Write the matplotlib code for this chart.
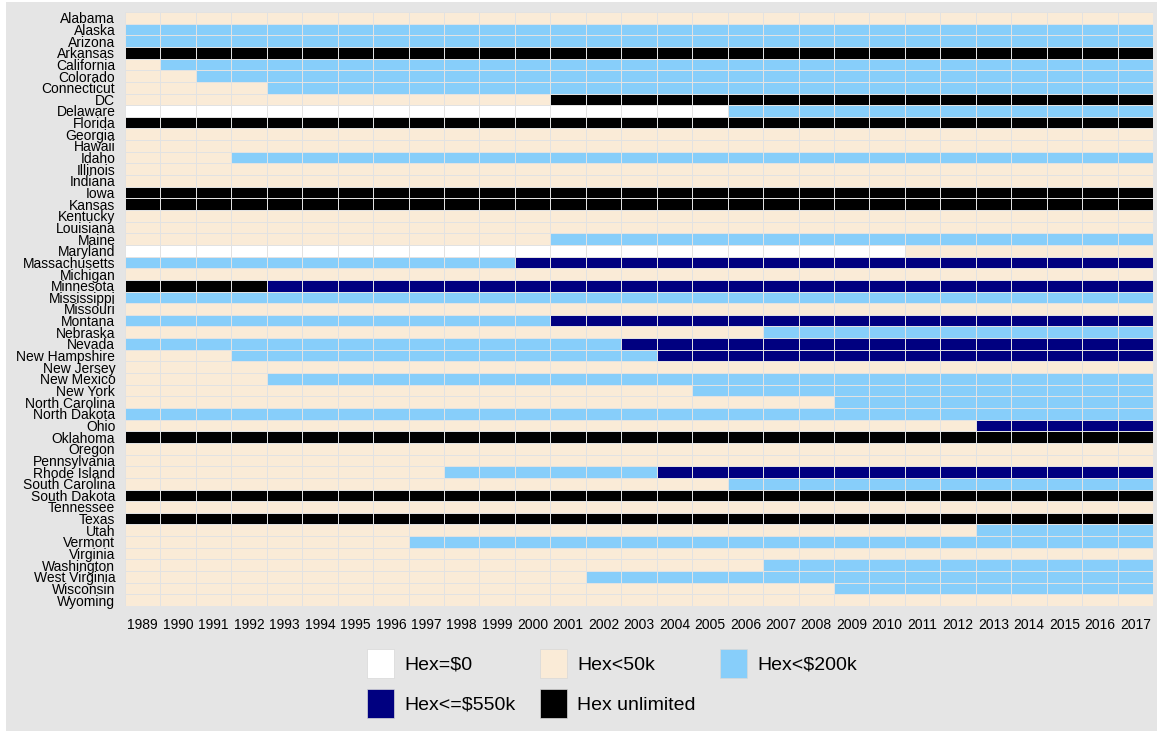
import matplotlib

matplotlib.use("Agg")

import matplotlib.pyplot as plt  # noqa: E402
import numpy as np  # noqa: E402
from matplotlib.colors import BoundaryNorm, ListedColormap  # noqa: E402
from matplotlib.patches import Patch, Rectangle  # noqa: E402

plt.rcParams["font.family"] = ["Liberation Sans", "DejaVu Sans"]

years = list(range(1989, 2018))

categories = ["Hex=$0", "Hex<50k", "Hex<$200k", "Hex<=$550k", "Hex unlimited"]
cat_colors = ["#FFFFFF", "#FAEBD7", "#87CEFA", "#000080", "#000000"]

states = [
    "Alabama", "Alaska", "Arizona", "Arkansas", "California", "Colorado",
    "Connecticut", "DC", "Delaware", "Florida", "Georgia", "Hawaii", "Idaho",
    "Illinois", "Indiana", "Iowa", "Kansas", "Kentucky", "Louisiana", "Maine",
    "Maryland", "Massachusetts", "Michigan", "Minnesota", "Mississippi",
    "Missouri", "Montana", "Nebraska", "Nevada", "New Hampshire", "New Jersey",
    "New Mexico", "New York", "North Carolina", "North Dakota", "Ohio",
    "Oklahoma", "Oregon", "Pennsylvania", "Rhode Island", "South Carolina",
    "South Dakota", "Tennessee", "Texas", "Utah", "Vermont", "Virginia",
    "Washington", "West Virginia", "Wisconsin", "Wyoming",
]

# (first year, category index) for each change of exemption level
changes = [
    [(1989, 1)],                          # Alabama
    [(1989, 2)],                          # Alaska
    [(1989, 2)],                          # Arizona
    [(1989, 4)],                          # Arkansas
    [(1989, 1), (1990, 2)],               # California
    [(1989, 1), (1991, 2)],               # Colorado
    [(1989, 1), (1993, 2)],               # Connecticut
    [(1989, 1), (2001, 4)],               # DC
    [(1989, 0), (2006, 2)],               # Delaware
    [(1989, 4)],                          # Florida
    [(1989, 1)],                          # Georgia
    [(1989, 1)],                          # Hawaii
    [(1989, 1), (1992, 2)],               # Idaho
    [(1989, 1)],                          # Illinois
    [(1989, 1)],                          # Indiana
    [(1989, 4)],                          # Iowa
    [(1989, 4)],                          # Kansas
    [(1989, 1)],                          # Kentucky
    [(1989, 1)],                          # Louisiana
    [(1989, 1), (2001, 2)],               # Maine
    [(1989, 0), (2011, 1)],               # Maryland
    [(1989, 2), (2000, 3)],               # Massachusetts
    [(1989, 1)],                          # Michigan
    [(1989, 4), (1993, 3)],               # Minnesota
    [(1989, 2)],                          # Mississippi
    [(1989, 1)],                          # Missouri
    [(1989, 2), (2001, 3)],               # Montana
    [(1989, 1), (2007, 2)],               # Nebraska
    [(1989, 2), (2003, 3)],               # Nevada
    [(1989, 1), (1992, 2), (2004, 3)],    # New Hampshire
    [(1989, 1)],                          # New Jersey
    [(1989, 1), (1993, 2)],               # New Mexico
    [(1989, 1), (2005, 2)],               # New York
    [(1989, 1), (2009, 2)],               # North Carolina
    [(1989, 2)],                          # North Dakota
    [(1989, 1), (2013, 3)],               # Ohio
    [(1989, 4)],                          # Oklahoma
    [(1989, 1)],                          # Oregon
    [(1989, 1)],                          # Pennsylvania
    [(1989, 1), (1998, 2), (2004, 3)],    # Rhode Island
    [(1989, 1), (2006, 2)],               # South Carolina
    [(1989, 4)],                          # South Dakota
    [(1989, 1)],                          # Tennessee
    [(1989, 4)],                          # Texas
    [(1989, 1), (2013, 2)],               # Utah
    [(1989, 1), (1997, 2)],               # Vermont
    [(1989, 1)],                          # Virginia
    [(1989, 1), (2007, 2)],               # Washington
    [(1989, 1), (2002, 2)],               # West Virginia
    [(1989, 1), (2009, 2)],               # Wisconsin
    [(1989, 1)],                          # Wyoming
]

grid = np.zeros((len(states), len(years)))
for i, steps in enumerate(changes):
    for start, cat in steps:
        for j, yr in enumerate(years):
            if yr >= start:
                grid[i, j] = cat

bg = "#E5E5E5"
fig = plt.figure(figsize=(11.6, 7.34), dpi=100)
fig.patch.set_facecolor("white")
fig.patches.append(
    Rectangle((6 / 1160, 3 / 734), 1151 / 1160, 729 / 734,
              transform=fig.transFigure, facecolor=bg, edgecolor="none",
              zorder=-10)
)

ax = fig.add_axes([125 / 1160, 1 - 606 / 734, 1028 / 1160, 594 / 734])
ax.set_facecolor(bg)

cmap = ListedColormap(cat_colors)
norm = BoundaryNorm(np.arange(-0.5, len(categories) + 0.5), cmap.N)
x_edges = np.arange(len(years) + 1) - 0.5
y_edges = np.arange(len(states) + 1) - 0.5
ax.pcolormesh(x_edges, y_edges, grid, cmap=cmap, norm=norm,
              edgecolors="#E2E2E2", linewidth=0.7)

ax.set_xlim(-0.5, len(years) - 0.5)
ax.set_ylim(len(states) - 0.5, -0.5)
ax.set_xticks(range(len(years)))
ax.set_xticklabels([str(y) for y in years], fontsize=10)
ax.set_yticks(range(len(states)))
ax.set_yticklabels(states, fontsize=10)
ax.tick_params(length=0, pad=7)
ax.tick_params(axis="x", pad=8.5)
for s in ax.spines.values():
    s.set_visible(False)

handles = [Patch(facecolor=c, edgecolor="#D8D8D8", linewidth=0.5, label=l)
           for c, l in zip(cat_colors, categories)]
order = [0, 3, 1, 4, 2]
fig.legend([handles[k] for k in order], [categories[k] for k in order],
           ncol=3, loc="center", bbox_to_anchor=(612 / 1160, 1 - 683.5 / 734),
           frameon=False, fontsize=14, handlelength=1.39, handleheight=1.92,
           handletextpad=0.52, columnspacing=1.25, labelspacing=0.55)

fig.savefig("out.png", dpi=100, facecolor=fig.get_facecolor())
